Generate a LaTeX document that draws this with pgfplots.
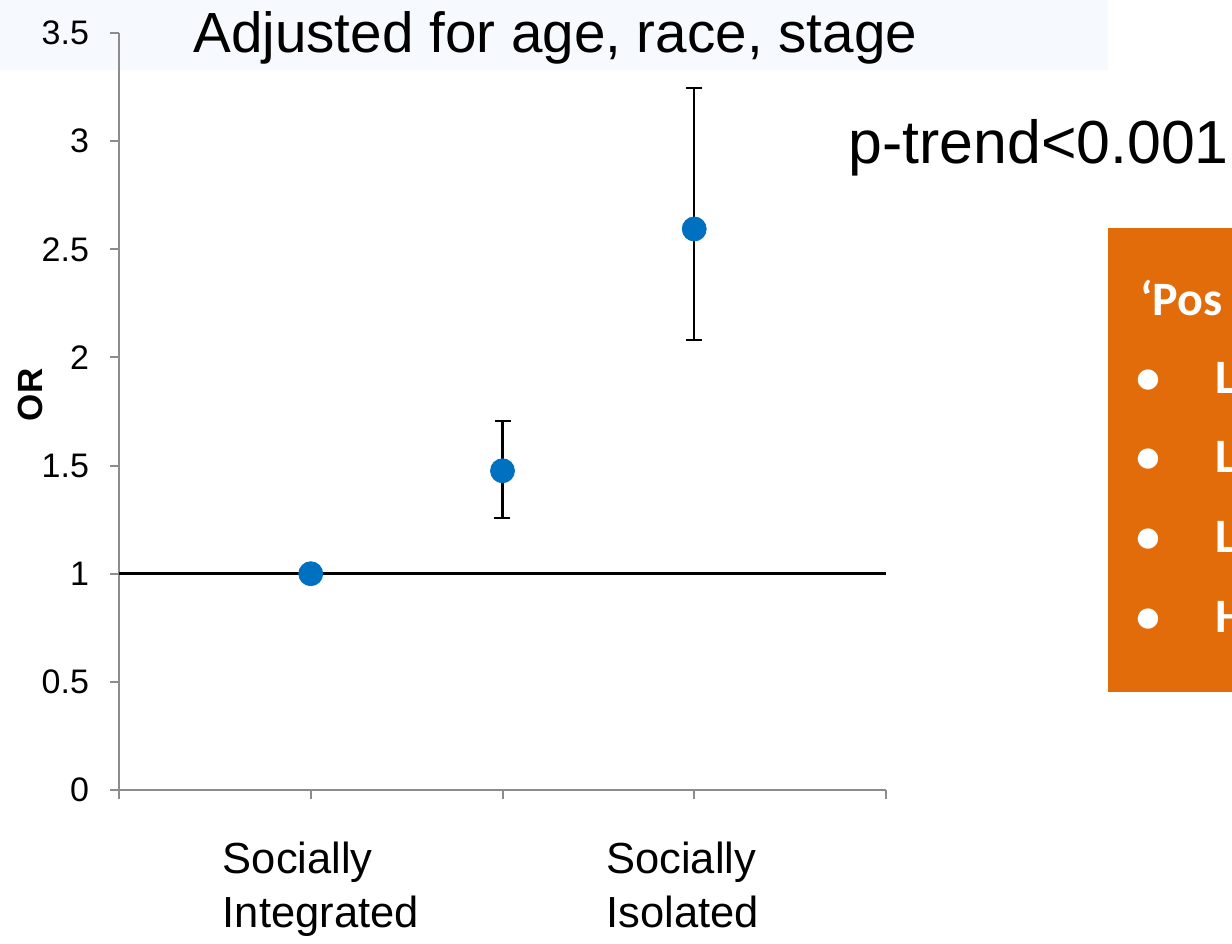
\documentclass[border=0pt]{standalone}
\usepackage{pgfplots}
\pgfplotsset{compat=1.18}
\usepackage{fontspec}
\setmainfont{Liberation Sans}
\newfontfamily\calibri{Carlito}
\definecolor{ptblue}{HTML}{0070C0}
\definecolor{boxorange}{HTML}{E36C0A}
\definecolor{titlebg}{HTML}{F6FAFE}
\definecolor{axgray}{HTML}{8C8C8C}
\begin{document}
\begin{tikzpicture}
\begin{scope}[x=0.5pt,y=-0.5pt]
\useasboundingbox (0,0) rectangle (1232,937);
\fill[titlebg] (0,0) rectangle (1108,70);
\node[anchor=base west,inner sep=0pt,font=\fontsize{28.3}{34}\selectfont] at (193,52) {Adjusted for age, race, stage};
\node[anchor=base west,inner sep=0pt,font=\fontsize{30.4}{34}\selectfont] at (848,163) {p-trend<0.001};
\begin{scope}
\clip (1108,228) rectangle (1232,692);
\fill[boxorange] (1108,228) rectangle (1232,692);
\node[anchor=base west, inner sep=0pt, text=white, font=\calibri\bfseries\fontsize{24}{29}\selectfont] at (1140,315) {‘Pos};
\foreach \yy/\tt in {393/L,472/L,552/L,632/H} {
  \node[anchor=base, inner sep=0pt, text=white, font=\calibri\bfseries\fontsize{24}{29}\selectfont] at (1148,\yy) {•};
  \node[anchor=base west, inner sep=0pt, text=white, font=\calibri\bfseries\fontsize{24}{29}\selectfont] at (1215,\yy) {\tt};
}
\end{scope}
\end{scope}
\begin{axis}[at={(59.5pt,-395pt)}, anchor=south west, scale only axis,
  width=383.5pt, height=378.5pt,
  xmin=0, xmax=4, ymin=0, ymax=3.5,
  axis x line*=bottom, axis y line*=left,
  axis line style={axgray, line width=1pt, -},
  tick style={axgray, line width=1pt},
  tick align=outside, major tick length=4.5pt,
  xtick={0,1,2,3,4},
  xticklabels={,Socially\\Integrated,,Socially\\Isolated,},
  xticklabel style={align=left, anchor=north west, font=\fontsize{21.75}{27}\selectfont, yshift=-18pt, xshift=-47.5pt},
  ytick={0,0.5,1,1.5,2,2.5,3,3.5},
  yticklabel style={font=\fontsize{17}{20}\selectfont, xshift=-7pt},
  /pgf/number format/assume math mode=true,
  ylabel={OR},
  ylabel style={font=\bfseries\fontsize{17.5}{20}\selectfont, at={(axis description cs:-0.116,0.522)}, anchor=center},
  clip=false]
\addplot[black, line width=1.3pt] coordinates {(0,1) (4,1)};
\addplot[only marks, mark=*, mark size=6pt, mark options={fill=ptblue, draw=ptblue},
  error bars/.cd, y dir=both, y explicit,
  error bar style={black, line width=1.1pt},
  error mark options={rotate=90, black, line width=1.1pt, mark size=4pt}]
  table[x=x, y=y, y error plus=ep, y error minus=em] {
x y ep em
1 1 0 0
2 1.476 0.231 0.220
3 2.594 0.651 0.514
};
\end{axis}
\end{tikzpicture}
\end{document}
